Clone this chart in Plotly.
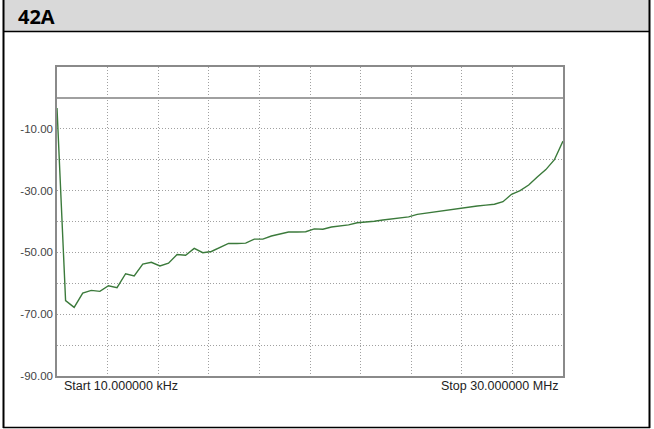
import numpy as np
import plotly.graph_objects as go

# ---- data ----
f_start_mhz = 0.01
f_stop_mhz = 30.0
n_points = 60
freq_mhz = np.linspace(f_start_mhz, f_stop_mhz, n_points)

level_db = [
    -3.3, -65.6, -67.8, -63.2, -62.3, -62.6, -60.8, -61.4, -56.9, -57.6,
    -53.8, -53.2, -54.4, -53.5, -50.7, -50.9, -48.7, -50.1, -49.7, -48.4,
    -47.1, -47.1, -47.0, -45.7, -45.7, -44.7, -44.1, -43.4, -43.4, -43.3,
    -42.4, -42.5, -41.8, -41.5, -41.1, -40.4, -40.2, -39.9, -39.5, -39.1,
    -38.8, -38.5, -37.7, -37.3, -36.9, -36.5, -36.0, -35.8, -35.2, -35.0,
    -34.7, -34.4, -33.6, -31.2, -30.0, -28.2, -25.6, -23.2, -20.0, -14.0,
]

y_ticks = list(range(-90, 11, 10))
y_labels = ["-90.00", "", "-70.00", "", "-50.00", "", "-30.00", "", "-10.00", "", ""]

title = "42A"
start_label = "Start 10.000000 kHz"
stop_label = "Stop 30.000000 MHz"

# ---- geometry ----
W, H = 654, 429
L, R, T, B = 57, 563, 67, 376

def px(x):
    return (x - L) / (R - L)

def py(y):
    return (B - y) / (B - T)

C_TRACE = "#3b7a3b"
C_GRID = "#a0a0a0"
C_AXIS = "#8a8a8a"

fig = go.Figure(go.Scatter(
    x=freq_mhz,
    y=level_db,
    mode="lines",
    line={"color": C_TRACE, "width": 1.4},
    hoverinfo="skip",
))

fig.update_layout(
    width=W, height=H,
    margin=dict(l=L, r=W - R, t=T, b=H - B, pad=0),
    paper_bgcolor="white",
    plot_bgcolor="white",
    showlegend=False,
    font={"family": "Liberation Sans, Arial", "color": "#333"},
    xaxis={
        "range": [f_start_mhz, f_stop_mhz],
        "tickmode": "linear",
        "tick0": f_start_mhz,
        "dtick": (f_stop_mhz - f_start_mhz) / 10,
        "showticklabels": False,
        "ticks": "",
        "showgrid": True,
        "gridcolor": C_GRID,
        "griddash": "1px,2px",
        "gridwidth": 1,
        "zeroline": False,
        "showline": True,
        "linecolor": C_AXIS,
        "linewidth": 1.5,
        "mirror": True,
    },
    yaxis={
        "range": [-90, 10],
        "tickmode": "array",
        "tickvals": y_ticks,
        "ticktext": y_labels,
        "ticks": "",
        "ticklabelstandoff": 0,
        "tickfont": {"size": 11.5, "color": "#444"},
        "showgrid": True,
        "gridcolor": C_GRID,
        "griddash": "1px,2px",
        "gridwidth": 1,
        "zeroline": True,
        "zerolinecolor": "#a0a0a0",
        "zerolinewidth": 2,
        "showline": True,
        "linecolor": C_AXIS,
        "linewidth": 1.5,
        "mirror": True,
    },
)

# header band and outer frame
fig.add_shape(type="rect", xref="paper", yref="paper",
              x0=px(3), x1=px(650), y0=py(0), y1=py(31),
              fillcolor="#d9d9d9", line={"width": 0}, layer="below")
fig.add_shape(type="line", xref="paper", yref="paper",
              x0=px(3), x1=px(650), y0=py(31.5), y1=py(31.5),
              line={"color": "black", "width": 1.5})
fig.add_shape(type="line", xref="paper", yref="paper",
              x0=px(3.5), x1=px(3.5), y0=py(0), y1=py(428),
              line={"color": "black", "width": 2})
fig.add_shape(type="line", xref="paper", yref="paper",
              x0=px(649.5), x1=px(649.5), y0=py(0), y1=py(428),
              line={"color": "black", "width": 2})
fig.add_shape(type="line", xref="paper", yref="paper",
              x0=px(3), x1=px(650), y0=py(427.5), y1=py(427.5),
              line={"color": "black", "width": 1.5})

fig.add_annotation(text=f"<b>{title}</b>", xref="paper", yref="paper",
                   x=px(16), y=py(17), xanchor="left", yanchor="middle",
                   showarrow=False,
                   font={"family": "Open Sans", "size": 20, "color": "black"})
fig.add_annotation(text=start_label, xref="paper", yref="paper",
                   x=px(62), y=py(385.5), xanchor="left", yanchor="middle",
                   showarrow=False, font={"size": 12.5, "color": "#222"})
fig.add_annotation(text=stop_label, xref="paper", yref="paper",
                   x=px(560), y=py(385.5), xanchor="right", yanchor="middle",
                   showarrow=False, font={"size": 12.5, "color": "#222"})

# drop the default page margin so the figure sits at the window origin
fig.write_html("out.html", config={"displayModeBar": False},
               post_script="document.body.style.margin='0';")
